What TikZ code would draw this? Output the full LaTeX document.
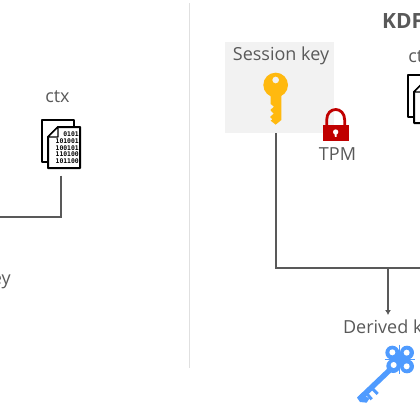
\documentclass[tikz,border=0pt]{standalone}
\usepackage{fontspec}
\setmainfont{Open Sans}
\newfontfamily\digitfont{DejaVu Sans Mono}
\usetikzlibrary{arrows.meta}
\definecolor{linegray}{HTML}{595959}
\definecolor{textgray}{HTML}{595959}
\definecolor{keyyellow}{HTML}{FFB90F}
\definecolor{keyblue}{HTML}{4F9BFF}
\definecolor{lockred}{HTML}{C00000}
\tikzset{
  label text/.style={font=\fontsize{18}{20}\selectfont,text=textgray,inner sep=0pt},
  title text/.style={font=\fontsize{21}{24}\selectfont\bfseries,text=textgray,inner sep=0pt},
  conn/.style={draw=linegray,line width=2.1pt},
  zoomA/.style={x=.33333pt,y=-.33333pt},
  page/.style={draw=black,line width=2pt,fill=white,line join=round},
  digits/.style={font=\fontsize{6.4}{6.2}\selectfont\bfseries\digitfont,text=black,inner sep=0pt,align=right}
}
\newcommand{\docicon}[2]{%
  \begin{scope}[xshift=#1pt,yshift=-#2pt,x=1pt,y=-1pt]
    \draw[page] (0,0) rectangle (32,42);
    \draw[page] (16,7) -- (38,7) -- (38,48) -- (6,48) -- (6,17) -- cycle;
    \draw[black,line width=1.4pt,fill=white,line join=round] (16,7) -- (16,17) -- (6,17) -- cycle;
    \node[digits,anchor=north east] at (37,12) {0101\\[.4pt]101001\\[.4pt]100101\\[.4pt]110100\\[.4pt]101100};
  \end{scope}}
\begin{document}
\begin{tikzpicture}[x=1pt,y=-1pt]
\useasboundingbox (0,0) rectangle (420,420);
\clip (0,0) rectangle (420,420);
% divider
\coordinate (divtop) at (189.5,3);
\coordinate (divbot) at (189.5,368);
\draw[draw=black!12,line width=1.2pt] (divtop) -- (divbot);
% left part
\node[label text] (ctxL) at (57.5,97) {ctx};
\docicon{42}{120}
\coordinate (docLbot) at (61,175.5);
\coordinate (leftedge) at (0,217);
\draw[conn,line join=miter] (docLbot) |- (leftedge);
\node[label text,anchor=east] (derivedL) at (11,280) {Derived key};
% right part
\node[title text,anchor=west] (kdf) at (382,21.5) {KDF};
\node[fill=black!5,draw=none,minimum width=109pt,minimum height=91pt,inner sep=0pt] (sessionbox) at (279.5,87.5) {};
\node[label text] (sessionlabel) at (281,56) {Session key};
% yellow key
\begin{scope}[xshift=210pt,zoomA]
  \fill[keyyellow] (197,255) circle (37);
  \fill[keyyellow] (182,285) -- (182,312) -- (192,320) -- (181,330) -- (191,341) -- (180,351) -- (187,358) -- (182,362) -- (197,374) -- (214,360) -- (214,285) -- cycle;
  \fill[black!5] (197,240) circle (10);
  % lock
  \draw[lockred,line width=2.8pt] (350,376) -- (350,360) .. controls (350,318) and (404,318) .. (404,360) -- (404,376);
  \fill[lockred] (340,375) rectangle (416,422);
  \fill[white] (377,396) circle (8);
  \fill[white] (373.5,396) -- (380.5,396) -- (379.5,411) -- (374.5,411) -- cycle;
\end{scope}
\node[label text] (tpm) at (337.5,154) {TPM};
\node[label text] (ctxR) at (420.5,57) {ctx};
\docicon{408}{75}
% connectors
\coordinate (sessionout) at (276,133);
\coordinate (rightedge) at (420,268);
\coordinate (join) at (388,268);
\draw[conn,line join=miter] (sessionout) |- (rightedge);
\node[label text] (derivedR) at (392,329) {Derived key};
\draw[conn,-{Latex[length=5pt,width=6pt]}] (join) -- (388,315);
% blue key
\begin{scope}[xshift=210pt,yshift=-210pt,zoomA]
  \fill[keyblue] (547,428) circle (21) (591,428) circle (21) (550,468) circle (21) (591,469) circle (21) (570,448) circle (20);
  \draw[keyblue,line width=1.5pt] (568,404) -- (568,492) (524,448) -- (614,448);
  \draw[keyblue,line width=5.4pt] (555,465) -- (449,566);
  \draw[keyblue,line width=3pt] (468,548) -- (485,568);
  \draw[keyblue,line width=3pt] (484,533) -- (503,552);
  \fill[keyblue] (441,563) -- (455,550) -- (478,566) -- (470,578) -- (450,576) -- cycle;
  \fill[white] (547,427) circle (9) (590,428) circle (9) (551,465) circle (9) (590,469) circle (9);
\end{scope}
\end{tikzpicture}
\end{document}
